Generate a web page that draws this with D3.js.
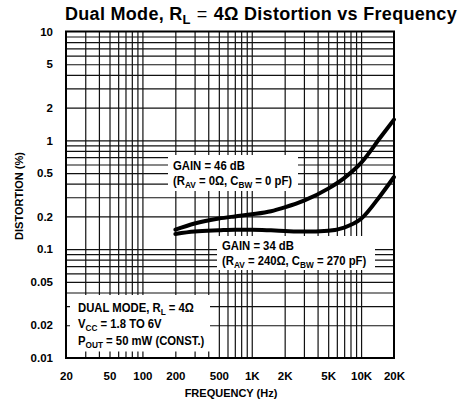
<!DOCTYPE html>
<html>
<head>
<meta charset="utf-8">
<script src="https://cdn.jsdelivr.net/npm/d3@7"></script>
<style>
  html, body { margin: 0; padding: 0; background: #fff; }
  svg text { fill: #000; }
  .tick-label { font-family: "Liberation Sans", Arial, sans-serif; font-weight: bold; font-size: 11.5px; }
  .note { font-family: "Liberation Sans", Arial, sans-serif; font-weight: bold; font-size: 13px; }
</style>
</head>
<body>
<svg id="chart" width="464" height="408"></svg>
<script>
// axis labels
const freqTicks = [20, 50, 100, 200, 500, 1000, 2000, 5000, 10000, 20000];
const freqTickLabels = ['20', '50', '100', '200', '500', '1K', '2K', '5K', '10K', '20K'];
const distTicks = [0.01, 0.02, 0.05, 0.1, 0.2, 0.5, 1, 2, 5, 10];
const distTickLabels = ['0.01', '0.02', '0.05', '0.1', '0.2', '0.5', '1', '2', '5', '10'];

// curves (THD+N in %)
const frequency = [200, 300, 500, 700, 1000, 1500, 2000, 3000, 5000, 7000, 10000, 15000, 20000];
const gain46 = [0.151, 0.172, 0.191, 0.200, 0.209, 0.223, 0.242, 0.279, 0.36, 0.45, 0.62, 1.06, 1.55];
const gain34 = [0.138, 0.145, 0.149, 0.151, 0.151, 0.149, 0.147, 0.145, 0.148, 0.158, 0.19, 0.31, 0.46];

const plotL = 66, plotR = 394, plotT = 31.5, plotB = 358;

const svg = d3.select('#chart');

const x = d3.scaleLog().domain([20, 20000]).range([plotL, plotR]);
const y = d3.scaleLog().domain([0.01, 10]).range([plotB, plotT]);

// log paper grid values
const gridX = [];
[10, 100, 1000].forEach(d => {
    for (let k = 2; k <= 10; k++) gridX.push(k * d);
});
const gridXVals = gridX.filter(v => v > 20 && v < 20000);
const gridY = [];
[0.01, 0.1, 1].forEach(d => {
    for (let k = 2; k <= 9; k++) gridY.push(k * d);
    gridY.push(10 * d);
});
const gridYVals = gridY.filter(v => v > 0.01 && v < 10);

const grid = svg.append('g').attr('class', 'grid');

grid.append('g')
    .attr('transform', `translate(0,${plotB})`)
    .call(d3.axisBottom(x).tickValues(gridXVals).tickSize(-(plotB - plotT)).tickFormat(''))
    .call(g => g.select('.domain').remove())
    .call(g => g.selectAll('line').attr('stroke', '#111').attr('stroke-width', 1.2));

grid.append('g')
    .attr('transform', `translate(${plotL},0)`)
    .call(d3.axisLeft(y).tickValues(gridYVals).tickSize(-(plotR - plotL)).tickFormat(''))
    .call(g => g.select('.domain').remove())
    .call(g => g.selectAll('line').attr('stroke', '#111').attr('stroke-width', 1.2));

// white boxes behind the notes
const boxes = [
    { x0: 168, y0: 155, x1: 298, y1: 191 },
    { x0: 217, y0: 236, x1: 375, y1: 270 },
    { x0: 70, y0: 295, x1: 210, y1: 351.5 }
];
svg.append('g').selectAll('rect')
    .data(boxes)
    .enter()
    .append('rect')
    .attr('x', d => d.x0)
    .attr('y', d => d.y0)
    .attr('width', d => d.x1 - d.x0)
    .attr('height', d => d.y1 - d.y0)
    .attr('fill', '#fff');

// curves
const line = d3.line()
    .x(d => x(d[0]))
    .y(d => y(d[1]))
    .curve(d3.curveMonotoneX);

[gain46, gain34].forEach(series => {
    svg.append('path')
        .datum(frequency.map((f, i) => [f, series[i]]))
        .attr('fill', 'none')
        .attr('stroke', '#000')
        .attr('stroke-width', 4)
        .attr('stroke-linecap', 'round')
        .attr('d', line);
});

// frame
svg.append('rect')
    .attr('x', plotL).attr('y', plotT)
    .attr('width', plotR - plotL).attr('height', plotB - plotT)
    .attr('fill', 'none').attr('stroke', '#000').attr('stroke-width', 2);

// tick labels
svg.append('g')
    .attr('transform', `translate(0,${plotB})`)
    .call(d3.axisBottom(x).tickValues(freqTicks).tickSize(0).tickPadding(14)
        .tickFormat((d, i) => freqTickLabels[i]))
    .call(g => g.select('.domain').remove())
    .call(g => g.selectAll('text').attr('class', 'tick-label'));

svg.append('g')
    .attr('transform', `translate(${plotL},0)`)
    .call(d3.axisLeft(y).tickValues(distTicks).tickSize(0).tickPadding(13)
        .tickFormat((d, i) => distTickLabels[i]))
    .call(g => g.select('.domain').remove())
    .call(g => g.selectAll('text').attr('class', 'tick-label'));

// axis titles
svg.append('text')
    .attr('x', 231).attr('y', 397)
    .attr('text-anchor', 'middle')
    .attr('class', 'tick-label')
    .style('font-size', '11px')
    .text('FREQUENCY (Hz)');

svg.append('text')
    .attr('transform', 'translate(23,196) rotate(-90)')
    .attr('text-anchor', 'middle')
    .attr('class', 'tick-label')
    .style('font-size', '11px')
    .text('DISTORTION (%)');

// title
const title = svg.append('text')
    .attr('x', 65).attr('y', 20)
    .style('font-family', '"Liberation Sans", Arial, sans-serif')
    .style('font-weight', 'bold')
    .style('font-size', '18px')
    .style('letter-spacing', '0.3px');
title.append('tspan').text('Dual Mode, R');
title.append('tspan').attr('dy', 4).style('font-size', '13px').text('L');
title.append('tspan').attr('dy', -4).attr('dx', 6).style('font-weight', 'normal').text('=');
title.append('tspan').attr('dx', 6).text('4Ω Distortion vs Frequency');

// notes with subscripts: [text, isSub]
function note(px, py, parts) {
    const t = svg.append('text').attr('class', 'note')
        .attr('transform', `translate(${px},${py}) scale(0.87,1)`);
    let sub = false;
    parts.forEach(p => {
        const s = t.append('tspan').text(p[0]);
        if (p[1] && !sub) { s.attr('dy', 3).style('font-size', '9.5px'); sub = true; }
        else if (p[1]) { s.style('font-size', '9.5px'); }
        else if (sub) { s.attr('dy', -3); sub = false; }
    });
}

note(173, 170, [['GAIN = 46 dB']]);
note(173, 185, [['(R'], ['AV', 1], [' = 0Ω, C'], ['BW', 1], [' = 0 pF)']]);
note(222, 250, [['GAIN = 34 dB']]);
note(222, 265, [['(R'], ['AV', 1], [' = 240Ω, C'], ['BW', 1], [' = 270 pF)']]);
note(78, 312, [['DUAL MODE, R'], ['L', 1], [' = 4Ω']]);
note(78, 328, [['V'], ['CC', 1], [' = 1.8 TO 6V']]);
note(78, 345, [['P'], ['OUT', 1], [' = 50 mW (CONST.)']]);
</script>
</body>
</html>
